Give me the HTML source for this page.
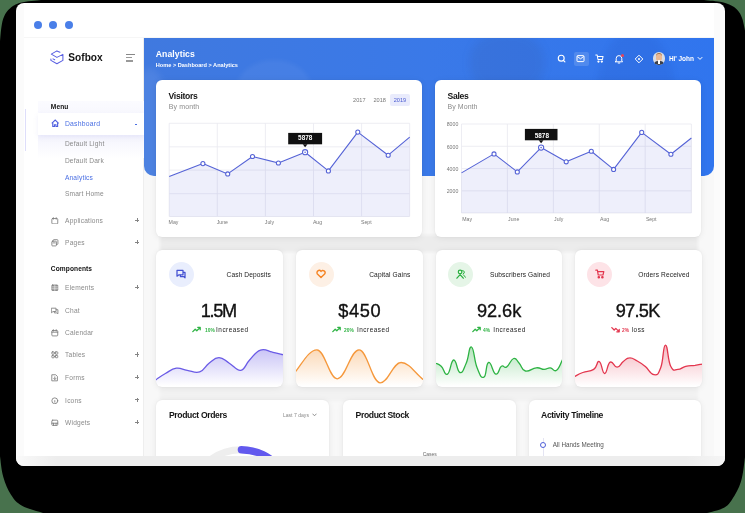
<!DOCTYPE html>
<html>
<head>
<meta charset="utf-8">
<title>Sofbox Analytics</title>
<style>
*{box-sizing:border-box;margin:0;padding:0}
html,body{width:745px;height:513px;overflow:hidden}
body{background:#48724d;font-family:"Liberation Sans",sans-serif;position:relative;color:#111}
.abs{position:absolute}
.t{position:absolute;white-space:nowrap;line-height:1}
#win{will-change:transform;filter:blur(.4px);left:16px;top:3px;width:709px;height:462.5px;background:#fbfbfb;border-radius:8px;overflow:hidden}
#inner{left:8px;top:0;width:690.1px;height:452.8px;background:#fff;overflow:hidden}
#content{left:119.5px;top:35px;width:570.6px;height:418px;background:#f8f8f8}
#hdr{left:0;top:0;width:570.6px;height:137.5px;background:linear-gradient(90deg,#4079df 0%,#3a79e8 50%,#3075ee 100%);border-radius:0 0 10px 10px;overflow:hidden}
.card{position:absolute;background:#fff;border-radius:6px;box-shadow:0 1px 7px rgba(0,0,0,.07),0 0 1.5px rgba(0,0,0,.08);overflow:hidden}
.dot{position:absolute;width:8.4px;height:8.4px;border-radius:50%;background:#4a7fe8;top:17.8px}
.mi{color:#8a8a8a;font-size:6.6px}
.plus{color:#777;font-size:8px}
.num{font-size:18.2px;text-align:center;color:#111;-webkit-text-stroke:.35px #111}
.xl{font-size:5.2px;color:#777}
.yl{font-size:5.2px;color:#777;left:0;width:22.9px;text-align:right}
</style>
</head>
<body>
<svg id="shadow" class="abs" style="left:0;top:0" width="745" height="513" viewBox="0 0 745 513"><path d="M0.0 41.6C0.3 39.0 0.7 31.8 1.4 27.3C2.1 22.8 2.5 19.8 4.1 16.4C5.7 13.0 7.2 10.7 10.2 8.2C13.2 5.7 15.0 4.2 20.5 2.7C26.0 1.2 37.3 0.5 41.0 0.0L702.5 0.0C705.6 0.3 714.7 0.8 720.0 1.8C725.3 2.8 728.4 4.0 731.8 5.8C735.2 7.6 736.9 9.4 738.8 11.7C740.7 14.0 741.4 16.2 742.3 18.7C743.2 21.2 743.5 23.6 744.0 25.7C744.5 27.8 744.8 29.6 745.0 30.4L745.0 457.3C744.3 461.7 743.3 474.0 741.0 481.5C738.7 489.0 735.4 494.4 732.2 499.2C729.0 504.0 728.0 505.5 723.4 508.0C718.8 510.5 709.9 512.1 706.9 513.0L43.0 513.0C39.2 511.7 27.8 509.0 22.0 505.7C16.2 502.4 14.4 499.9 11.0 494.7C7.6 489.5 5.3 483.9 3.3 477.0C1.3 470.1 0.6 459.9 0.0 456.2Z" fill="#000"/></svg>
<div id="win" class="abs">
 <div class="abs" style="left:0;top:452.8px;width:709px;height:10px;background:linear-gradient(90deg,#fafafa 0,#f6f6f6 10px,#ededed 40px,#ededed 670px,#f5f5f5 709px)"></div>
 <div id="inner" class="abs">
  <!-- window dots -->
  <div class="dot" style="left:9.7px"></div>
  <div class="dot" style="left:24.7px"></div>
  <div class="dot" style="left:40.7px"></div>
  <div class="abs" style="left:0;top:34px;width:691px;height:1px;background:#f6f6f6"></div>

  <!-- SIDEBAR -->
  <div id="side" class="abs" style="left:0;top:35px;width:119.5px;height:418px;background:#fff;border-right:1px solid #eee">
   <!-- coordinates inside side: page x-24, page y-38 -->
   <!-- logo -->
   <svg class="abs" style="left:26px;top:11.5px" width="14" height="15" viewBox="0 0 14 15" fill="none" stroke="#5a60e2" stroke-width="1.05" stroke-linejoin="round" stroke-linecap="round">
    <path d="M9.9 2.3L6.9 .9L1.3 4.1L6.9 7.4L12.9 4.4V10.4L6.9 13.8L.9 10.4V8.9"/>
    <path d="M3 8.9L4.7 9.8"/>
   </svg>
   <div class="t" id="logo" style="left:44.3px;top:14.9px;font-size:10.1px;font-weight:bold;color:#141414;letter-spacing:.03px">Sofbox</div>
   <!-- hamburger -->
   <div class="abs" style="left:102.1px;top:15.7px;width:9px;height:1.1px;background:#888"></div>
   <div class="abs" style="left:102.1px;top:19px;width:5.6px;height:1.1px;background:#999"></div>
   <div class="abs" style="left:102.1px;top:22.2px;width:7.4px;height:1.4px;background:#999"></div>

   <!-- active panel shadows -->
   <div class="abs" style="left:13.5px;top:63px;width:106px;height:57px;background:linear-gradient(180deg,#fbfbff 0%,#f3f3fd 60%,#ffffff 100%)"></div>
   <div class="abs" style="left:13.5px;top:74.5px;width:106px;height:22.5px;background:#fff;box-shadow:0 2px 5px rgba(120,120,220,.10)"></div>
   <div class="abs" style="left:0.5px;top:71px;width:1px;height:42px;background:#dedefa"></div>

   <div class="t" style="left:26.8px;top:65.9px;font-size:6.6px;font-weight:bold;color:#111;letter-spacing:.1px">Menu</div>
   <!-- dashboard -->
   <svg class="abs" style="left:26.5px;top:81px" width="8.4" height="8.4" viewBox="0 0 9 9" fill="none" stroke="#4f5fe0" stroke-width="1.2" stroke-linejoin="miter"><path d="M.8 4.7 L4.5 1.1 L8.2 4.7"/><path d="M1.9 3.9 V8.1 H3.7 V6.2 H5.3 V8.1 H7.1 V3.9"/></svg>
   <div class="t" style="left:40.9px;top:83px;font-size:6.8px;color:#4a6fe3;letter-spacing:.25px">Dashboard</div>
   <div class="abs" style="left:110.6px;top:85.8px;width:2.4px;height:1px;background:#4a6fe3"></div>
   <div class="t mi" style="left:40.9px;top:103.2px;letter-spacing:.2px">Default Light</div>
   <div class="t mi" style="left:40.9px;top:119.8px;letter-spacing:.2px">Default Dark</div>
   <div class="t mi" style="left:40.9px;top:136.5px;color:#4a6fe3;letter-spacing:.2px">Analytics</div>
   <div class="t mi" style="left:40.9px;top:153.3px;letter-spacing:.2px">Smart Home</div>
   <svg class="abs" style="left:27px;top:178.9px" width="7.6" height="7.6" viewBox="0 0 9 9" fill="none" stroke="#7d7d7d" stroke-width="1" stroke-linejoin="round" stroke-linecap="round"><rect x="1" y="1.8" width="7" height="6.4" rx="1"/><path d="M2.8 .8V2.6M6.2 .8V2.6"/></svg>
   <div class="t mi" style="left:41.1px;top:179.9px;letter-spacing:.2px">Applications</div>
   <div class="abs" style="left:111px;top:181.6px;width:4.4px;height:1px;background:#858585"></div><div class="abs" style="left:112.7px;top:179.9px;width:1px;height:4.4px;background:#858585"></div>
   <svg class="abs" style="left:27px;top:201.0px" width="7.6" height="7.6" viewBox="0 0 9 9" fill="none" stroke="#7d7d7d" stroke-width="1" stroke-linejoin="round" stroke-linecap="round"><rect x="1" y="2.6" width="5.4" height="5.6" rx=".8"/><path d="M2.6 2.6V1.6A.8 .8 0 0 1 3.4 .8H7.4A.8 .8 0 0 1 8.2 1.6V5.6A.8 .8 0 0 1 7.4 6.4H6.4M2.4 4.6H5"/></svg>
   <div class="t mi" style="left:41.1px;top:202.0px;letter-spacing:.2px">Pages</div>
   <div class="abs" style="left:111px;top:203.7px;width:4.4px;height:1px;background:#858585"></div><div class="abs" style="left:112.7px;top:202.0px;width:1px;height:4.4px;background:#858585"></div>
   <svg class="abs" style="left:27px;top:245.8px" width="7.6" height="7.6" viewBox="0 0 9 9" fill="none" stroke="#7d7d7d" stroke-width="1" stroke-linejoin="round" stroke-linecap="round"><rect x="1" y="1.2" width="7" height="6.6" rx=".8" fill="#999"/><path d="M1 3.4H8M1 5.6H8M4.5 1.2V7.8" stroke="#fff" stroke-width=".6"/></svg>
   <div class="t mi" style="left:41.1px;top:246.8px;letter-spacing:.2px">Elements</div>
   <div class="abs" style="left:111px;top:248.5px;width:4.4px;height:1px;background:#858585"></div><div class="abs" style="left:112.7px;top:246.8px;width:1px;height:4.4px;background:#858585"></div>
   <svg class="abs" style="left:27px;top:268.6px" width="7.6" height="7.6" viewBox="0 0 9 9" fill="none" stroke="#7d7d7d" stroke-width="1" stroke-linejoin="round" stroke-linecap="round"><path d="M.8 1.4H6V5.4H2.4L.8 6.6Z"/><path d="M6 3.2H8.2V8L7 7H4V5.4"/></svg>
   <div class="t mi" style="left:41.1px;top:269.6px;letter-spacing:.2px">Chat</div>
   <svg class="abs" style="left:27px;top:291.1px" width="7.6" height="7.6" viewBox="0 0 9 9" fill="none" stroke="#7d7d7d" stroke-width="1" stroke-linejoin="round" stroke-linecap="round"><rect x="1" y="1.8" width="7" height="6.4" rx="1"/><path d="M2.8 .8V2.6M6.2 .8V2.6M1 3.8H8"/></svg>
   <div class="t mi" style="left:41.1px;top:292.1px;letter-spacing:.2px">Calendar</div>
   <svg class="abs" style="left:27px;top:313.4px" width="7.6" height="7.6" viewBox="0 0 9 9" fill="none" stroke="#7d7d7d" stroke-width="1" stroke-linejoin="round" stroke-linecap="round"><rect x="1" y="1" width="2.8" height="2.8" rx=".6"/><rect x="5.2" y="1" width="2.8" height="2.8" rx=".6"/><rect x="1" y="5.2" width="2.8" height="2.8" rx=".6"/><rect x="5.2" y="5.2" width="2.8" height="2.8" rx=".6"/><path d="M3.8 2.4H5.2M3.8 6.6H5.2"/></svg>
   <div class="t mi" style="left:41.1px;top:314.4px;letter-spacing:.2px">Tables</div>
   <div class="abs" style="left:111px;top:316.1px;width:4.4px;height:1px;background:#858585"></div><div class="abs" style="left:112.7px;top:314.4px;width:1px;height:4.4px;background:#858585"></div>
   <svg class="abs" style="left:27px;top:336.0px" width="7.6" height="7.6" viewBox="0 0 9 9" fill="none" stroke="#7d7d7d" stroke-width="1" stroke-linejoin="round" stroke-linecap="round"><path d="M1.4 .9H5.6L7.6 2.9V8.1H1.4Z"/><path d="M4.5 3.4V6.4M3.2 5.2L4.5 6.5L5.8 5.2"/></svg>
   <div class="t mi" style="left:41.1px;top:337.0px;letter-spacing:.2px">Forms</div>
   <div class="abs" style="left:111px;top:338.7px;width:4.4px;height:1px;background:#858585"></div><div class="abs" style="left:112.7px;top:337.0px;width:1px;height:4.4px;background:#858585"></div>
   <svg class="abs" style="left:27px;top:358.5px" width="7.6" height="7.6" viewBox="0 0 9 9" fill="none" stroke="#7d7d7d" stroke-width="1" stroke-linejoin="round" stroke-linecap="round"><circle cx="4.5" cy="4.5" r="3.5"/><path d="M4.5 4.2V6.2"/></svg>
   <div class="t mi" style="left:41.1px;top:359.5px;letter-spacing:.2px">Icons</div>
   <div class="abs" style="left:111px;top:361.2px;width:4.4px;height:1px;background:#858585"></div><div class="abs" style="left:112.7px;top:359.5px;width:1px;height:4.4px;background:#858585"></div>
   <svg class="abs" style="left:27px;top:381.1px" width="7.6" height="7.6" viewBox="0 0 9 9" fill="none" stroke="#7d7d7d" stroke-width="1" stroke-linejoin="round" stroke-linecap="round"><rect x="1" y="1.4" width="7" height="6.2" rx="1"/><path d="M1 5H8M3 5V7.6M6 5V7.6"/></svg>
   <div class="t mi" style="left:41.1px;top:382.1px;letter-spacing:.2px">Widgets</div>
   <div class="abs" style="left:111px;top:383.8px;width:4.4px;height:1px;background:#858585"></div><div class="abs" style="left:112.7px;top:382.1px;width:1px;height:4.4px;background:#858585"></div>
   <div class="t" style="left:26.8px;top:227.6px;font-size:6.6px;font-weight:bold;color:#111;letter-spacing:.1px">Components</div>
  </div>

  <!-- CONTENT -->
  <div id="content" class="abs">
   <div id="hdr" class="abs">
    <!-- faint photo-like shapes -->
    <div class="abs" style="left:-14px;top:30px;width:40px;height:120px;border-radius:50%;background:rgba(255,255,255,.07);filter:blur(3px)"></div>
    <div class="abs" style="left:92px;top:22px;width:76px;height:60px;border-radius:50% 50% 40% 40%;background:rgba(255,255,255,.05);filter:blur(2px)"></div>
    <div class="abs" style="left:326px;top:-6px;width:74px;height:62px;border-radius:46%;background:rgba(60,70,110,.10);filter:blur(4px)"></div>
    <div class="abs" style="left:452px;top:-8px;width:80px;height:150px;border-radius:48%;background:rgba(20,40,140,.07);filter:blur(3px)"></div>
    <div class="t" style="left:12.3px;top:12.1px;font-size:8.7px;font-weight:bold;color:#fff;letter-spacing:.05px">Analytics</div>
    <div class="t" style="left:12.3px;top:25.3px;font-size:5.6px;font-weight:bold;color:#fff">Home &gt; Dashboard &gt; Analytics</div>
    <!-- search -->
    <svg class="abs" style="left:413.4px;top:16.1px" width="9.2" height="9.2" viewBox="0 0 10 10" fill="none" stroke="#fff" stroke-width="1.25" stroke-linecap="round"><circle cx="4.6" cy="4.6" r="3.2"/><path d="M7.2 7.2 L8.6 8.6"/></svg>
    <!-- mail -->
    <div class="abs" style="left:430px;top:13.9px;width:15px;height:13.8px;border-radius:2px;background:rgba(255,255,255,.14)"></div>
    <svg class="abs" style="left:432.8px;top:16.2px" width="9" height="9" viewBox="0 0 9 9" fill="none" stroke="#fff" stroke-width="1" stroke-linejoin="round"><rect x="1" y="1.6" width="7" height="6" rx=".8"/><path d="M1.2 2.4 L4.5 4.8 L7.8 2.4"/></svg>
    <!-- cart -->
    <svg class="abs" style="left:451.8px;top:16.2px" width="9.2" height="9.2" viewBox="0 0 10 10" fill="none" stroke="#fff" stroke-width="1.1" stroke-linejoin="round" stroke-linecap="round"><path d="M.8 1.2 H2.4 L3.2 6 H8 L8.8 2.6 H2.8"/><circle cx="3.8" cy="8.2" r=".7" fill="#fff"/><circle cx="7.4" cy="8.2" r=".7" fill="#fff"/></svg>
    <!-- bell -->
    <svg class="abs" style="left:470.9px;top:16px" width="10" height="10" viewBox="0 0 10 10" fill="none" stroke="#fff" stroke-width="1" stroke-linejoin="round" stroke-linecap="round"><path d="M2.2 7 V4.4 A2.8 2.8 0 0 1 7.8 4.4 V7 L8.6 7.8 H1.4 Z"/><path d="M4.2 9 H5.8"/></svg>
    <div class="abs" style="left:477.6px;top:15.5px;width:3px;height:3px;border-radius:50%;background:#e8435a"></div>
    <!-- crosshair -->
    <svg class="abs" style="left:490.7px;top:15.5px" width="10" height="10" viewBox="0 0 10 10" fill="none" stroke="#fff" stroke-width="1" stroke-linejoin="round"><path d="M5 1.2 L8.8 5 L5 8.8 L1.2 5 Z"/><circle cx="5" cy="5" r="1" fill="#fff" stroke="none"/></svg>
    <!-- avatar -->
    <div class="abs" style="left:509.2px;top:13.9px;width:12.8px;height:12.8px;border-radius:50%;background:#d9dde6;overflow:hidden">
      <div class="abs" style="left:3.2px;top:1.2px;width:6.4px;height:3px;border-radius:3px 3px 0 0;background:#a8703c"></div>
      <div class="abs" style="left:3.6px;top:2.6px;width:5.6px;height:6.2px;border-radius:45%;background:#eab894"></div>
      <div class="abs" style="left:1.4px;top:9px;width:10px;height:6px;border-radius:4px 4px 0 0;background:#3a3f4a"></div>
      <div class="abs" style="left:5.4px;top:8.6px;width:2px;height:4px;background:#fff"></div>
    </div>
    <div class="t" style="left:525.4px;top:17.8px;font-size:6.5px;font-weight:bold;color:#fff;letter-spacing:-.05px">Hi' John</div>
    <svg class="abs" style="left:553.2px;top:18.2px" width="6" height="5" viewBox="0 0 6 5" fill="none" stroke="#fff" stroke-width="1" stroke-linecap="round" stroke-linejoin="round"><path d="M1 1.4 L3 3.4 L5 1.4"/></svg>
   </div>

   <div class="abs" style="left:16px;top:197px;width:538px;height:17px;background:#ececec;filter:blur(1.5px)"></div>
   <div class="abs" style="left:16px;top:347px;width:538px;height:16px;background:#f2f2f2;filter:blur(1.5px)"></div>
   <!-- CARD 1: Visitors -->
   <div class="card" style="left:12.6px;top:42.4px;width:266.4px;height:156.6px">
    <div class="t" style="left:12.5px;top:11.8px;font-size:8.6px;font-weight:bold;color:#151515;letter-spacing:-.3px">Visitors</div>
    <div class="t" style="left:12.7px;top:22.8px;font-size:7px;color:#8c8c8c;letter-spacing:.12px">By month</div>
    <div class="t" style="left:197px;top:17.3px;font-size:5.6px;color:#777">2017</div>
    <div class="t" style="left:217.4px;top:17.3px;font-size:5.6px;color:#777">2018</div>
    <div class="abs" style="left:233.6px;top:13.9px;width:20.4px;height:11.5px;border-radius:2px;background:#e9ebfc"></div>
    <div class="t" style="left:237.6px;top:17.3px;font-size:5.6px;color:#4a5bd0">2019</div>
    <svg class="abs" style="left:0;top:.5px" width="266" height="156" viewBox="156.1 80.4 266 156">
      <g stroke="#e9e9f0" stroke-width=".8" fill="none">
        <path d="M169.3 122.7H409.8M169.3 146.2H409.8M169.3 169.5H409.8M169.3 193.1H409.8M169.3 215.9H409.8"/>
        <path d="M169.3 122.7V215.9M217.4 122.7V215.9M265.5 122.7V215.9M313.6 122.7V215.9M361.7 122.7V215.9M409.8 122.7V215.9"/>
      </g>
      <path d="M169.3 175.9L203 163L227.8 173.3L252.6 155.9L278.5 162.4L305.2 151.6L328.5 170.3L357.9 131.5L388.3 154.6L409.8 136.6V215.9H169.3Z" fill="rgba(90,100,220,.10)"/>
      <path d="M169.3 175.9L203 163L227.8 173.3L252.6 155.9L278.5 162.4L305.2 151.6L328.5 170.3L357.9 131.5L388.3 154.6L409.8 136.6" fill="none" stroke="#5563d6" stroke-width="1.1" stroke-linejoin="round"/>
      <g fill="#fff" stroke="#5563d6" stroke-width="1.05">
        <circle cx="203" cy="163" r="2.05"/><circle cx="227.8" cy="173.3" r="2.05"/><circle cx="252.6" cy="155.9" r="2.05"/><circle cx="278.5" cy="162.4" r="2.05"/><circle cx="305.2" cy="151.6" r="2.6"/><circle cx="328.5" cy="170.3" r="2.05"/><circle cx="357.9" cy="131.5" r="2.05"/><circle cx="388.3" cy="154.6" r="2.05"/>
      </g>
      <circle cx="305.2" cy="151.6" r=".8" fill="#5563d6"/>
      <rect x="288.3" y="132.3" width="33.9" height="11.4" fill="#111"/>
      <path d="M302.8 143.6H307.6L305.2 146.6Z" fill="#111"/>
    </svg>
    <div class="t" style="left:132.2px;top:54.9px;width:33.9px;text-align:center;font-size:6.4px;font-weight:bold;color:#fff">5878</div>
    <div class="t xl" style="left:12.5px;top:139.9px">May</div>
    <div class="t xl" style="left:60.6px;top:139.9px">June</div>
    <div class="t xl" style="left:108.7px;top:139.9px">July</div>
    <div class="t xl" style="left:156.8px;top:139.9px">Aug</div>
    <div class="t xl" style="left:204.9px;top:139.9px">Sept</div>
   </div>

   <!-- CARD 2: Sales -->
   <div class="card" style="left:291.9px;top:42.4px;width:266.1px;height:156.6px">
    <div class="t" style="left:12.2px;top:11.8px;font-size:8.6px;font-weight:bold;color:#151515;letter-spacing:-.3px">Sales</div>
    <div class="t" style="left:12.2px;top:22.8px;font-size:7px;color:#8c8c8c;letter-spacing:.05px">By Month</div>
    <svg class="abs" style="left:0;top:0" width="266.5" height="156" viewBox="435.4 80.4 266.5 156">
      <g stroke="#e9e9f0" stroke-width=".8" fill="none">
        <path d="M461.9 124.4H691.8M461.9 146.7H691.8M461.9 169H691.8M461.9 191.2H691.8M461.9 213.4H691.8"/>
        <path d="M461.9 124.4V213.4M507.8 124.4V213.4M553.8 124.4V213.4M599.7 124.4V213.4M645.6 124.4V213.4M691.8 124.4V213.4"/>
      </g>
      <path d="M461.9 173.3L494.4 154.3L517.7 172.3L541.5 148L566.6 162.2L591.7 151.6L614 169.8L642.1 132.8L671.3 154.6L691.8 138.4V213.4H461.9Z" fill="rgba(90,100,220,.10)"/>
      <path d="M461.9 173.3L494.4 154.3L517.7 172.3L541.5 148L566.6 162.2L591.7 151.6L614 169.8L642.1 132.8L671.3 154.6L691.8 138.4" fill="none" stroke="#5563d6" stroke-width="1.1" stroke-linejoin="round"/>
      <g fill="#fff" stroke="#5563d6" stroke-width="1.05">
        <circle cx="494.4" cy="154.3" r="2.05"/><circle cx="517.7" cy="172.3" r="2.05"/><circle cx="541.5" cy="148" r="2.6"/><circle cx="566.6" cy="162.2" r="2.05"/><circle cx="591.7" cy="151.6" r="2.05"/><circle cx="614" cy="169.8" r="2.05"/><circle cx="642.1" cy="132.8" r="2.05"/><circle cx="671.3" cy="154.6" r="2.05"/>
      </g>
      <circle cx="541.5" cy="148" r=".8" fill="#5563d6"/>
      <rect x="525.3" y="129.3" width="32.6" height="11.4" fill="#111"/>
      <path d="M539.1 140.6H543.9L541.5 143.6Z" fill="#111"/>
    </svg>
    <div class="t" style="left:90.2px;top:52.3px;width:32.6px;text-align:center;font-size:6.4px;font-weight:bold;color:#fff">5878</div>
    <div class="t yl" style="top:42px">8000</div>
    <div class="t yl" style="top:64.3px">6000</div>
    <div class="t yl" style="top:86.6px">4000</div>
    <div class="t yl" style="top:108.8px">2000</div>
    <div class="t xl" style="left:26.8px;top:136.9px">May</div>
    <div class="t xl" style="left:72.7px;top:136.9px">June</div>
    <div class="t xl" style="left:118.7px;top:136.9px">July</div>
    <div class="t xl" style="left:164.6px;top:136.9px">Aug</div>
    <div class="t xl" style="left:210.5px;top:136.9px">Sept</div>
   </div>
   
   <div class="card" style="left:12.7px;top:212px;width:127px;height:136.8px">
    <div class="abs" style="left:12.8px;top:11.5px;width:25px;height:25px;border-radius:50%;background:#e9eefd"></div>
    <svg class="abs" style="left:20.3px;top:19.2px" width="10" height="10" viewBox="0 0 10 10" fill="none" stroke="#4350d2" stroke-width="1.25" stroke-linejoin="round"><path d="M1 1.4H7V5.8H3L1 7.2Z"/><path d="M7 3.4H9V8.8L7.6 7.6H4.4V5.8"/></svg>
    <div class="t" style="right:12.2px;top:21.7px;font-size:6.6px;color:#222;letter-spacing:.12px">Cash Deposits</div>
    <div class="t num" style="left:-1.3px;width:127px;top:51.8px;letter-spacing:-1.35px">1.5M</div>
    <svg class="abs" style="left:36px;top:76.4px" width="9" height="7" viewBox="0 0 9 7" fill="none" stroke="#2fb344" stroke-width="1.3" stroke-linejoin="round" stroke-linecap="round"><path d="M.8 5.6L3.2 3.2L4.8 4.8L8 1.6M5.8 1.4H8.2V3.8"/></svg>
    <div class="t" style="left:48.7px;top:76.7px;font-size:6.1px;font-weight:bold;color:#2fb344;transform:scaleX(.8);transform-origin:0 50%">10%</div><div class="t" style="left:59.9px;top:76.6px;font-size:6.4px;color:#222;letter-spacing:.5px">Increased</div>
    <svg class="abs" style="left:0;top:0" width="127" height="136" viewBox="0 0 127 136">
      <defs><linearGradient id="gA" x1="0" y1="0" x2="0" y2="1"><stop offset="0" stop-color="#6a5be6" stop-opacity=".36"/><stop offset="1" stop-color="#6a5be6" stop-opacity="0"/></linearGradient></defs>
      <path d="M0.0 129.7C2.1 128.3 4.9 126.0 9.4 123.5C13.9 121.0 15.5 118.9 20.3 118.2C25.1 117.5 26.1 119.5 31.2 120.3C36.3 121.1 38.9 123.5 43.7 121.9C48.5 120.3 48.8 116.3 53.0 113.2C57.2 110.1 58.5 107.6 63.0 107.6C67.5 107.6 68.5 110.4 73.3 113.2C78.1 116.0 80.3 121.0 84.8 120.3C89.3 119.6 89.3 114.4 93.6 110.0C97.9 105.6 99.4 101.8 104.5 100.1C109.6 98.4 112.0 101.3 117.0 102.3C122.0 103.3 124.8 104.2 127.0 104.7V136H0Z" fill="url(#gA)" transform="translate(0,0)"/>
      <path d="M0.0 129.7C2.1 128.3 4.9 126.0 9.4 123.5C13.9 121.0 15.5 118.9 20.3 118.2C25.1 117.5 26.1 119.5 31.2 120.3C36.3 121.1 38.9 123.5 43.7 121.9C48.5 120.3 48.8 116.3 53.0 113.2C57.2 110.1 58.5 107.6 63.0 107.6C67.5 107.6 68.5 110.4 73.3 113.2C78.1 116.0 80.3 121.0 84.8 120.3C89.3 119.6 89.3 114.4 93.6 110.0C97.9 105.6 99.4 101.8 104.5 100.1C109.6 98.4 112.0 101.3 117.0 102.3C122.0 103.3 124.8 104.2 127.0 104.7" fill="none" stroke="#6a5be6" stroke-width="1.3" stroke-linejoin="round" stroke-linecap="round"/>
    </svg>
   </div>
   <div class="card" style="left:152.7px;top:212px;width:126.4px;height:136.8px">
    <div class="abs" style="left:12.8px;top:11.5px;width:25px;height:25px;border-radius:50%;background:#fdf0e5"></div>
    <svg class="abs" style="left:20.3px;top:19.4px" width="10" height="10" viewBox="0 0 10 10" fill="none" stroke="#f58424" stroke-width="1.4" stroke-linejoin="round"><path d="M5 8.6 L1.4 5 A2.1 2.1 0 0 1 5 2.4 A2.1 2.1 0 0 1 8.6 5 Z"/></svg>
    <div class="t" style="right:12.2px;top:21.7px;font-size:6.6px;color:#222;letter-spacing:.12px">Capital Gains</div>
    <div class="t num" style="left:0;width:127px;top:51.8px;letter-spacing:.65px">$450</div>
    <svg class="abs" style="left:36px;top:76.4px" width="9" height="7" viewBox="0 0 9 7" fill="none" stroke="#2fb344" stroke-width="1.3" stroke-linejoin="round" stroke-linecap="round"><path d="M.8 5.6L3.2 3.2L4.8 4.8L8 1.6M5.8 1.4H8.2V3.8"/></svg>
    <div class="t" style="left:47.4px;top:76.7px;font-size:6.1px;font-weight:bold;color:#2fb344;transform:scaleX(.8);transform-origin:0 50%">20%</div><div class="t" style="left:60.8px;top:76.6px;font-size:6.4px;color:#222;letter-spacing:.5px">Increased</div>
    <svg class="abs" style="left:0;top:0" width="127" height="136" viewBox="0 0 127 136">
      <defs><linearGradient id="gB" x1="0" y1="0" x2="0" y2="1"><stop offset="0" stop-color="#f5983c" stop-opacity=".36"/><stop offset="1" stop-color="#f5983c" stop-opacity="0"/></linearGradient></defs>
      <path d="M0 121C6.5 113 13 99.8 20.9 99.8C29.0 99.8 33.1 128.8 41.2 128.8C49.9 128.8 54.3 99.8 63.0 99.8C71.5 99.8 75.7 132.8 84.2 132.8C92.6 132.8 96.7 112.5 105.1 112.5C113.1 112.5 119 123 127 129.4V136H0Z" fill="url(#gB)" transform="translate(0,0)"/>
      <path d="M0 121C6.5 113 13 99.8 20.9 99.8C29.0 99.8 33.1 128.8 41.2 128.8C49.9 128.8 54.3 99.8 63.0 99.8C71.5 99.8 75.7 132.8 84.2 132.8C92.6 132.8 96.7 112.5 105.1 112.5C113.1 112.5 119 123 127 129.4" fill="none" stroke="#f5983c" stroke-width="1.3" stroke-linejoin="round" stroke-linecap="round"/>
    </svg>
   </div>
   <div class="card" style="left:292.1px;top:212px;width:126.7px;height:136.8px">
    <div class="abs" style="left:12.8px;top:11.5px;width:25px;height:25px;border-radius:50%;background:#e5f5e7"></div>
    <svg class="abs" style="left:20.3px;top:19.2px" width="10" height="10" viewBox="0 0 10 10" fill="none" stroke="#2bb040" stroke-width="1.25" stroke-linejoin="round" stroke-linecap="round"><circle cx="4.1" cy="2.9" r="1.8"/><path d="M.9 9.2 L4.1 5.6 L7.3 9.2"/><path d="M6.5 1.6 A1.7 1.7 0 0 1 7.2 4.9" stroke-width="1"/><path d="M7.4 5.8 L9.6 8.4" stroke-width="1"/></svg>
    <div class="t" style="right:12.2px;top:21.7px;font-size:6.6px;color:#222;letter-spacing:.12px">Subscribers Gained</div>
    <div class="t num" style="left:0;width:127px;top:51.8px;letter-spacing:-.05px">92.6k</div>
    <svg class="abs" style="left:36px;top:76.4px" width="9" height="7" viewBox="0 0 9 7" fill="none" stroke="#2fb344" stroke-width="1.3" stroke-linejoin="round" stroke-linecap="round"><path d="M.8 5.6L3.2 3.2L4.8 4.8L8 1.6M5.8 1.4H8.2V3.8"/></svg>
    <div class="t" style="left:47.7px;top:76.7px;font-size:6.1px;font-weight:bold;color:#2fb344;transform:scaleX(.8);transform-origin:0 50%">4%</div><div class="t" style="left:57.7px;top:76.6px;font-size:6.4px;color:#222;letter-spacing:.5px">Increased</div>
    <svg class="abs" style="left:0;top:0" width="127" height="136" viewBox="0 0 127 136">
      <defs><linearGradient id="gC" x1="0" y1="0" x2="0" y2="1"><stop offset="0" stop-color="#2db343" stop-opacity=".36"/><stop offset="1" stop-color="#2db343" stop-opacity="0"/></linearGradient></defs>
      <path d="M-0.4 113.2C1.0 114.0 2.2 113.6 5.2 116.3C8.2 119.0 8.4 125.7 11.5 124.1C14.6 122.5 14.6 110.4 17.7 110.0C20.8 109.6 20.8 121.7 23.9 122.5C27.0 123.3 27.3 119.6 30.2 113.2C33.1 106.8 32.8 95.8 35.5 97.0C38.2 98.2 38.0 110.3 41.1 117.8C44.2 125.4 45.0 128.5 47.9 127.2C50.8 125.9 49.6 113.3 52.6 112.5C55.6 111.7 56.6 123.2 59.8 124.1C63.0 125.1 62.7 118.1 65.4 116.3C68.1 114.5 67.7 118.8 70.7 116.9C73.7 114.9 74.5 109.4 77.6 108.5C80.7 107.6 80.2 110.1 83.2 113.2C86.2 116.3 85.1 119.8 89.4 121.0C93.7 122.2 95.6 118.2 100.3 117.8C105.0 117.4 104.6 119.4 108.1 119.4C111.6 119.4 111.2 117.6 114.3 117.8C117.4 118.0 117.5 122.4 120.6 120.3C123.7 118.2 125.1 112.1 126.6 109.4V136H0Z" fill="url(#gC)" transform="translate(0,0)"/>
      <path d="M-0.4 113.2C1.0 114.0 2.2 113.6 5.2 116.3C8.2 119.0 8.4 125.7 11.5 124.1C14.6 122.5 14.6 110.4 17.7 110.0C20.8 109.6 20.8 121.7 23.9 122.5C27.0 123.3 27.3 119.6 30.2 113.2C33.1 106.8 32.8 95.8 35.5 97.0C38.2 98.2 38.0 110.3 41.1 117.8C44.2 125.4 45.0 128.5 47.9 127.2C50.8 125.9 49.6 113.3 52.6 112.5C55.6 111.7 56.6 123.2 59.8 124.1C63.0 125.1 62.7 118.1 65.4 116.3C68.1 114.5 67.7 118.8 70.7 116.9C73.7 114.9 74.5 109.4 77.6 108.5C80.7 107.6 80.2 110.1 83.2 113.2C86.2 116.3 85.1 119.8 89.4 121.0C93.7 122.2 95.6 118.2 100.3 117.8C105.0 117.4 104.6 119.4 108.1 119.4C111.6 119.4 111.2 117.6 114.3 117.8C117.4 118.0 117.5 122.4 120.6 120.3C123.7 118.2 125.1 112.1 126.6 109.4" fill="none" stroke="#2db343" stroke-width="1.3" stroke-linejoin="round" stroke-linecap="round"/>
    </svg>
   </div>
   <div class="card" style="left:431.2px;top:212px;width:127px;height:136.8px">
    <div class="abs" style="left:12.8px;top:11.5px;width:25px;height:25px;border-radius:50%;background:#fde3e7"></div>
    <svg class="abs" style="left:20.3px;top:19.2px" width="10" height="10" viewBox="0 0 10 10" fill="none" stroke="#e3364e" stroke-width="1.2" stroke-linejoin="round" stroke-linecap="round"><path d="M.8 1.2 H2.4 L3.2 6 H8 L8.8 2.6 H2.8"/><circle cx="3.8" cy="8.2" r=".7" fill="#e3364e"/><circle cx="7.4" cy="8.2" r=".7" fill="#e3364e"/></svg>
    <div class="t" style="right:12.2px;top:21.7px;font-size:6.6px;color:#222;letter-spacing:.12px">Orders Received</div>
    <div class="t num" style="left:-.5px;width:127px;top:51.8px;letter-spacing:-.7px">97.5K</div>
    <svg class="abs" style="left:36px;top:76.4px" width="9" height="7" viewBox="0 0 9 7" fill="none" stroke="#e3364e" stroke-width="1.3" stroke-linejoin="round" stroke-linecap="round"><path d="M.8 1.6L3.2 4L4.8 2.4L8 5.6M5.8 5.8H8.2V3.4"/></svg>
    <div class="t" style="left:47.7px;top:76.7px;font-size:6.1px;font-weight:bold;color:#e3364e;transform:scaleX(.8);transform-origin:0 50%">2%</div><div class="t" style="left:57.0px;top:76.6px;font-size:6.4px;color:#222;letter-spacing:.5px">loss</div>
    <svg class="abs" style="left:0;top:0" width="127" height="136" viewBox="0 0 127 136">
      <defs><linearGradient id="gD" x1="0" y1="0" x2="0" y2="1"><stop offset="0" stop-color="#e3364e" stop-opacity=".36"/><stop offset="1" stop-color="#e3364e" stop-opacity="0"/></linearGradient></defs>
      <path d="M0.0 126.3C1.9 125.4 3.1 124.2 7.8 122.5C12.5 120.8 14.6 122.1 18.7 119.4C22.8 116.7 21.6 110.6 24.3 111.6C27.0 112.6 26.9 123.4 29.6 123.5C32.3 123.6 32.1 113.8 35.2 112.2C38.3 110.6 38.8 117.3 42.1 117.2C45.4 117.0 45.2 113.9 48.3 111.6C51.4 109.3 51.0 108.0 54.5 107.9C58.0 107.7 58.4 108.9 62.3 111.0C66.2 113.1 65.9 112.9 70.1 116.3C74.2 119.7 75.0 124.3 78.9 124.7C82.8 125.1 82.8 125.2 85.7 117.8C88.6 110.4 87.9 95.5 90.4 95.1C92.9 94.7 92.6 110.2 95.7 116.3C98.8 122.4 99.1 119.4 102.9 119.4C106.6 119.4 106.4 117.3 110.7 116.3C115.0 115.3 115.9 115.9 120.0 115.4C124.1 114.8 125.2 114.4 127.0 114.1V136H0Z" fill="url(#gD)" transform="translate(0,0)"/>
      <path d="M0.0 126.3C1.9 125.4 3.1 124.2 7.8 122.5C12.5 120.8 14.6 122.1 18.7 119.4C22.8 116.7 21.6 110.6 24.3 111.6C27.0 112.6 26.9 123.4 29.6 123.5C32.3 123.6 32.1 113.8 35.2 112.2C38.3 110.6 38.8 117.3 42.1 117.2C45.4 117.0 45.2 113.9 48.3 111.6C51.4 109.3 51.0 108.0 54.5 107.9C58.0 107.7 58.4 108.9 62.3 111.0C66.2 113.1 65.9 112.9 70.1 116.3C74.2 119.7 75.0 124.3 78.9 124.7C82.8 125.1 82.8 125.2 85.7 117.8C88.6 110.4 87.9 95.5 90.4 95.1C92.9 94.7 92.6 110.2 95.7 116.3C98.8 122.4 99.1 119.4 102.9 119.4C106.6 119.4 106.4 117.3 110.7 116.3C115.0 115.3 115.9 115.9 120.0 115.4C124.1 114.8 125.2 114.4 127.0 114.1" fill="none" stroke="#e3364e" stroke-width="1.3" stroke-linejoin="round" stroke-linecap="round"/>
    </svg>
   </div>
   <!-- ROW 3 -->
   <div class="card" style="left:12.6px;top:361.8px;width:173px;height:110px">
    <div class="t" style="left:12.9px;top:11.5px;font-size:8.6px;font-weight:bold;color:#151515;letter-spacing:-.37px">Product Orders</div>
    <div class="t" style="left:126.8px;top:12.9px;font-size:5.1px;color:#888">Last 7 days</div>
    <svg class="abs" style="left:155.5px;top:13px" width="5" height="4" viewBox="0 0 5 4" fill="none" stroke="#777" stroke-width=".8" stroke-linecap="round" stroke-linejoin="round"><path d="M.8 1L2.5 2.8L4.2 1"/></svg>
    <svg class="abs" style="left:0;top:0" width="173" height="110" viewBox="156.1 399.8 173 110">
      <circle cx="241" cy="500" r="50.5" fill="none" stroke="#eeeeee" stroke-width="7"/>
      <path d="M241.5 449.5 A50.5 50.5 0 0 1 280 468" fill="none" stroke="#6259ee" stroke-width="7.4" stroke-linecap="round"/>
    </svg>
   </div>
   <div class="card" style="left:199.2px;top:361.8px;width:173px;height:110px">
    <div class="t" style="left:12.9px;top:11.5px;font-size:8.6px;font-weight:bold;color:#151515;letter-spacing:-.37px">Product Stock</div>
    <div class="t" style="left:80px;top:52.4px;font-size:5px;color:#666">Cases</div>
   </div>
   <div class="card" style="left:385px;top:361.8px;width:172.5px;height:110px">
    <div class="t" style="left:12.6px;top:11.5px;font-size:8.6px;font-weight:bold;color:#151515;letter-spacing:-.37px">Activity Timeline</div>
    <div class="abs" style="left:14.2px;top:38px;width:1px;height:80px;background:#e4e4f2"></div>
    <div class="abs" style="left:11.5px;top:42.2px;width:6.4px;height:6.4px;border-radius:50%;background:#fff;border:1.6px solid #4f5fd8"></div>
    <div class="t" style="left:24.2px;top:42.3px;font-size:6.3px;color:#555">All Hands Meeting</div>
   </div>

  </div>
 </div>
</div>
</body>
</html>
